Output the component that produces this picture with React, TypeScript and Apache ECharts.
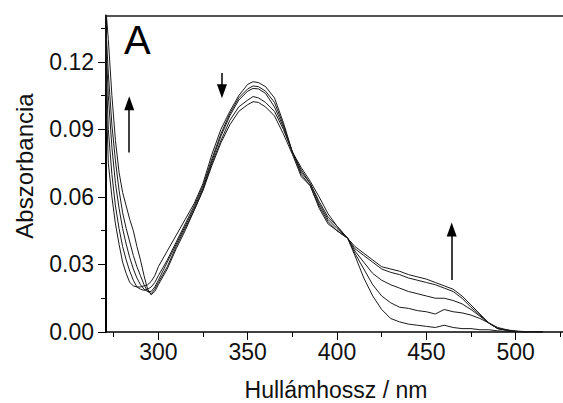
import React, { useEffect, useRef } from "react";
import * as echarts from "echarts";

const wavelengths = [270, 272, 274, 276, 278, 280, 282, 284, 286, 288, 290, 292, 294, 296, 298, 300, 305, 310, 315, 320, 325, 330, 335, 340, 345, 350, 353, 356, 360, 365, 370, 375, 380, 385, 390, 395, 400, 406, 410, 415, 420, 425, 430, 435, 440, 445, 450, 455, 460, 465, 470, 475, 480, 485, 490, 495, 500, 505, 510, 515];

const spectrum1 = [0.125, 0.075, 0.060, 0.048, 0.039, 0.031, 0.026, 0.022, 0.0205, 0.020, 0.020, 0.0205, 0.021, 0.0225, 0.025, 0.029, 0.036, 0.043, 0.050, 0.057, 0.066, 0.079, 0.090, 0.098, 0.105, 0.110, 0.1112, 0.1108, 0.109, 0.104, 0.093, 0.080, 0.073, 0.067, 0.060, 0.0525, 0.047, 0.0416, 0.034, 0.024, 0.016, 0.010, 0.006, 0.0045, 0.0035, 0.003, 0.0025, 0.002, 0.003, 0.002, 0.0015, 0.0015, 0.001, 0.001, 0.0005, 0.0003, 0.0002, 0, 0.0002, 0];
const spectrum2 = [0.135, 0.090, 0.070, 0.056, 0.046, 0.038, 0.032, 0.027, 0.023, 0.020, 0.019, 0.0185, 0.019, 0.020, 0.022, 0.025, 0.032, 0.040, 0.048, 0.056, 0.065, 0.077, 0.088, 0.097, 0.104, 0.108, 0.1093, 0.109, 0.107, 0.102, 0.092, 0.080, 0.072, 0.066, 0.058, 0.051, 0.047, 0.0416, 0.035, 0.028, 0.021, 0.016, 0.013, 0.011, 0.0105, 0.0095, 0.009, 0.008, 0.010, 0.009, 0.0085, 0.0075, 0.006, 0.004, 0.002, 0.001, 0.0004, 0.0002, 0, 0];
const spectrum3 = [0.140, 0.105, 0.082, 0.066, 0.055, 0.046, 0.039, 0.033, 0.028, 0.024, 0.021, 0.019, 0.018, 0.018, 0.020, 0.023, 0.031, 0.039, 0.047, 0.055, 0.064, 0.076, 0.087, 0.096, 0.103, 0.107, 0.1082, 0.108, 0.106, 0.100, 0.091, 0.080, 0.071, 0.066, 0.057, 0.050, 0.046, 0.0416, 0.036, 0.031, 0.026, 0.023, 0.021, 0.0195, 0.018, 0.017, 0.016, 0.015, 0.015, 0.014, 0.0125, 0.010, 0.007, 0.004, 0.0015, 0.0008, 0.0003, 0, 0.0002, 0];
const spectrum4 = [0.145, 0.115, 0.092, 0.076, 0.063, 0.053, 0.046, 0.040, 0.034, 0.029, 0.025, 0.021, 0.018, 0.017, 0.019, 0.022, 0.029, 0.038, 0.046, 0.054, 0.063, 0.075, 0.085, 0.094, 0.100, 0.103, 0.1046, 0.104, 0.102, 0.098, 0.090, 0.080, 0.070, 0.065, 0.056, 0.049, 0.045, 0.0416, 0.037, 0.034, 0.031, 0.028, 0.0265, 0.0255, 0.024, 0.023, 0.022, 0.021, 0.0195, 0.018, 0.015, 0.011, 0.0075, 0.004, 0.0015, 0.0008, 0.0003, 0, 0.0002, 0];
const spectrum5 = [0.150, 0.130, 0.105, 0.085, 0.071, 0.062, 0.056, 0.050, 0.045, 0.038, 0.032, 0.025, 0.019, 0.0165, 0.018, 0.021, 0.028, 0.037, 0.045, 0.054, 0.063, 0.074, 0.084, 0.092, 0.098, 0.101, 0.1023, 0.102, 0.100, 0.096, 0.088, 0.079, 0.069, 0.065, 0.055, 0.048, 0.045, 0.0416, 0.038, 0.035, 0.032, 0.029, 0.028, 0.027, 0.0255, 0.0245, 0.0235, 0.022, 0.0205, 0.019, 0.016, 0.012, 0.008, 0.004, 0.0015, 0.0008, 0.0003, 0.0002, 0, 0];

const spectra = [spectrum1, spectrum2, spectrum3, spectrum4, spectrum5];

const xMajorTicks = [300, 350, 400, 450, 500];
const xMinorTicks = [275, 325, 375, 425, 475, 525];
const yMajorTicks = [0, 0.03, 0.06, 0.09, 0.12];
const yMinorTicks = [0.015, 0.045, 0.075, 0.105, 0.135];

// arrows: wavelength, tail absorbance, arrowhead centre absorbance
const arrowX = [283.7, 335.6, 464.2];
const arrowFrom = [0.0797, 0.1151, 0.0231];
const arrowTo = [0.1016, 0.107, 0.0455];

const X_MIN = 270.7;
const X_MAX = 526.5;
const Y_MIN = 0;
const Y_MAX = 0.1406;

const FONT = "Liberation Sans, Arial, sans-serif";

export default function App() {
  const ref = useRef<HTMLDivElement>(null);
  useEffect(() => {
    if (!ref.current) return;
    const chart = echarts.init(ref.current, undefined, { renderer: "svg" });
    const series: any[] = spectra.map((s) => ({
      type: "line",
      xAxisIndex: 0,
      yAxisIndex: 0,
      showSymbol: false,
      symbol: "none",
      clip: true,
      lineStyle: { color: "#1a1a1a", width: 1 },
      data: wavelengths.map((w, i) => [w, s[i]]),
      z: 2,
    }));
    series[0].markLine = {
      silent: true,
      symbol: ["none", "triangle"],
      symbolSize: [10, 14],
      label: { show: false },
      lineStyle: { color: "#000", width: 1.5, type: "solid" },
      data: arrowX.map((x, i) => [
        { coord: [x, arrowFrom[i]] },
        { coord: [x, arrowTo[i]] },
      ]),
    };
    chart.setOption({
      animation: false,
      backgroundColor: "#fff",
      grid: { left: 106, right: 0, top: 15.5, bottom: 71, containLabel: false },
      xAxis: [
        {
          type: "value",
          position: "bottom",
          min: X_MIN,
          max: X_MAX,
          axisLine: { show: true, onZero: false, lineStyle: { color: "#000", width: 1.5 } },
          axisTick: { show: true, inside: false, length: 8, customValues: xMajorTicks, lineStyle: { color: "#000", width: 1 } },
          axisLabel: { show: true, customValues: xMajorTicks, fontSize: 23, fontFamily: FONT, color: "#111", margin: 8 },
          splitLine: { show: false },
        },
        {
          type: "value",
          position: "bottom",
          min: X_MIN,
          max: X_MAX,
          axisLine: { show: false, onZero: false },
          axisTick: { show: true, inside: false, length: 5, customValues: xMinorTicks, lineStyle: { color: "#000", width: 1 } },
          axisLabel: { show: false },
          splitLine: { show: false },
        },
        {
          type: "value",
          position: "top",
          min: X_MIN,
          max: X_MAX,
          axisLine: { show: true, onZero: false, lineStyle: { color: "#555", width: 2 } },
          axisTick: { show: false },
          axisLabel: { show: false },
          splitLine: { show: false },
        },
      ],
      yAxis: [
        {
          type: "value",
          position: "left",
          min: Y_MIN,
          max: Y_MAX,
          axisLine: { show: true, onZero: false, lineStyle: { color: "#000", width: 2 } },
          axisTick: { show: true, inside: false, length: 8, customValues: yMajorTicks, lineStyle: { color: "#000", width: 1 } },
          axisLabel: {
            show: true,
            customValues: yMajorTicks,
            formatter: (v: number) => v.toFixed(2),
            fontSize: 23,
            fontFamily: FONT,
            color: "#111",
            margin: 12,
          },
          splitLine: { show: false },
        },
        {
          type: "value",
          position: "left",
          min: Y_MIN,
          max: Y_MAX,
          axisLine: { show: false, onZero: false },
          axisTick: { show: true, inside: false, length: 5, customValues: yMinorTicks, lineStyle: { color: "#000", width: 1 } },
          axisLabel: { show: false },
          splitLine: { show: false },
        },
      ],
      graphic: [
        {
          type: "text",
          left: 124,
          top: 20,
          style: { text: "A", fontSize: 40, fontFamily: FONT, fill: "#000" },
        },
        {
          type: "text",
          x: 24,
          y: 166,
          rotation: Math.PI / 2,
          style: { text: "Abszorbancia", fontSize: 24, fontFamily: FONT, fill: "#111", align: "center", verticalAlign: "middle" },
        },
        {
          type: "text",
          x: 336,
          y: 390,
          style: { text: "Hullámhossz / nm", fontSize: 23, fontFamily: FONT, fill: "#111", align: "center", verticalAlign: "middle" },
        },
      ],
      series,
    });
    return () => chart.dispose();
  }, []);
  return (
    <div
      ref={ref}
      style={{ position: "fixed", left: 0, top: 0, width: 563, height: 403, background: "#fff" }}
    />
  );
}
